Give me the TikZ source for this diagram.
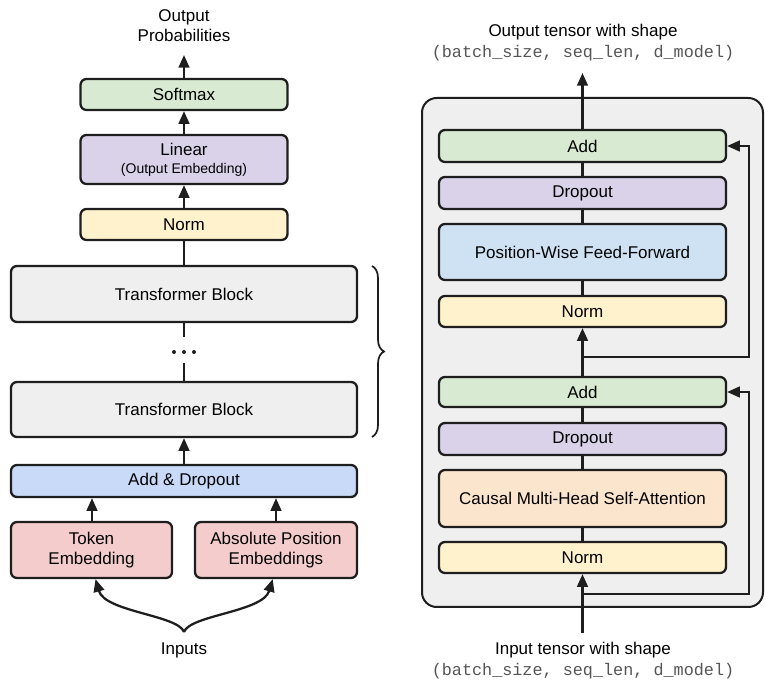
\documentclass[tikz,border=0pt]{standalone}
\usepackage{fontspec}
\setmainfont{Liberation Sans}
\setmonofont{Liberation Mono}
\usetikzlibrary{arrows.meta,decorations.pathreplacing}

\definecolor{boxline}{HTML}{1E1E1E}
\definecolor{cgreen}{HTML}{D9EAD3}
\definecolor{cpurple}{HTML}{D9D2E9}
\definecolor{cyellow}{HTML}{FFF2CC}
\definecolor{cgray}{HTML}{EFEFEF}
\definecolor{cblue}{HTML}{C9DAF8}
\definecolor{clblue}{HTML}{CFE2F3}
\definecolor{cpink}{HTML}{F4CCCC}
\definecolor{corange}{HTML}{FCE5CD}
\definecolor{monogray}{HTML}{555555}

\newcommand{\mainsize}{\fontsize{12.75pt}{14.5pt}\selectfont}
\newcommand{\smallsize}{\fontsize{10.5pt}{12pt}\selectfont}
\newcommand{\monotext}{\fontsize{12.6pt}{15pt}\selectfont\ttfamily\color{monogray}}

\begin{document}
\begin{tikzpicture}[x=0.75pt,y=-0.75pt,
  box/.style={draw=boxline, line width=1.7pt, rounded corners=4.5pt,
    inner sep=0pt, align=center, font=\mainsize, text=black},
  conn/.style={draw=boxline, line width=1.7pt},
  arr/.style={conn, -{Triangle[length=9.5pt,width=8pt]}},
  label/.style={inner sep=0pt, align=center, font=\mainsize, text=black},
]
\useasboundingbox (0,0) rectangle (765,680);

% ---------------- left: overall model ----------------
\node[label, font=\fontsize{12.75pt}{15pt}\selectfont] (outp) at (184,26) {Output\\Probabilities};
\coordinate (outtip) at (184,55);

\node[box, fill=cgreen, minimum width={207*0.75pt}, minimum height={31*0.75pt}] (softmax) at (184,94.5) {Softmax};
\node[box, fill=cpurple, minimum width={207*0.75pt}, minimum height={49*0.75pt}] (linear) at (184,159.5)
  {Linear\\[-1pt]{\smallsize (Output Embedding)}};
\node[box, fill=cyellow, minimum width={207*0.75pt}, minimum height={31*0.75pt}] (norm) at (184,224.5) {Norm};

\node[box, fill=cgray, minimum width={346*0.75pt}, minimum height={56*0.75pt}] (tb1) at (184,294) {Transformer Block};
\node[inner sep=0pt, minimum width={30*0.75pt}, minimum height={26*0.75pt}] (dots) at (184,350) {};
\node[box, fill=cgray, minimum width={346*0.75pt}, minimum height={55*0.75pt}] (tb2) at (184,409.5) {Transformer Block};

\node[box, fill=cblue, minimum width={346*0.75pt}, minimum height={32*0.75pt}] (adddrop) at (184,481) {Add \& Dropout};

\node[box, fill=cpink, minimum width={161*0.75pt}, minimum height={56*0.75pt}] (tok) at (91.5,550) {Token\\Embedding};
\node[box, fill=cpink, minimum width={162*0.75pt}, minimum height={56*0.75pt}] (pos) at (276,550) {Absolute Position\\Embeddings};

\node[label] (inputs) at (184,650) {Inputs};
\coordinate (split) at (184,632);

% dots between the stacked blocks
\fill[boxline] (174,352) circle (2);
\fill[boxline] (184,352) circle (2);
\fill[boxline] (194,352) circle (2);

% connectors
\draw[arr] (softmax.north) -- (outtip);
\draw[arr] (linear.north) -- (softmax.south);
\draw[arr] (norm.north) -- (linear.south);
\draw[conn] (tb1.north) -- (norm.south);
\draw[conn] (dots.north) -- (tb1.south);
\draw[conn] (tb2.north) -- (dots.south);
\draw[arr] (adddrop.north) -- (tb2.south);
\draw[arr] (tok.north -| 92,0) -- (adddrop.south -| 92,0);
\draw[arr] (pos.north -| 276,0) -- (adddrop.south -| 276,0);
\draw[arr] (split) .. controls (178,615) and (105,612) .. ([xshift=3pt]tok.south);
\draw[arr] (split) .. controls (190,615) and (263,612) .. ([xshift=-2.5pt]pos.south);

% brace grouping the blocks
\draw[boxline, line width=1.3pt, decorate, decoration={brace, amplitude=9pt}]
  (372,266) -- (372,437);

% ---------------- right: one transformer block ----------------
\node[draw=boxline, line width=1.5pt, fill=cgray, rounded corners=11pt,
  minimum width={341*0.75pt}, minimum height={509*0.75pt}, inner sep=0pt] (frame) at (592.5,352.5) {};

\node[label] (outlbl) at (583,32) {Output tensor with shape};
\node[inner sep=0pt, font=\monotext] (outshape) at (583,53) {(batch\_size, seq\_len, d\_model)};
\coordinate (outtop) at (582.5,73);

\node[box, fill=cgreen, minimum width={287*0.75pt}, minimum height={32*0.75pt}] (addB) at (582.5,146) {Add};
\node[box, fill=cpurple, minimum width={287*0.75pt}, minimum height={32*0.75pt}] (dropB) at (582.5,193) {Dropout};
\node[box, fill=clblue, minimum width={287*0.75pt}, minimum height={56*0.75pt}] (ffn) at (582.5,252) {Position-Wise Feed-Forward};
\node[box, fill=cyellow, minimum width={287*0.75pt}, minimum height={31*0.75pt}] (normB) at (582.5,311.5) {Norm};

\node[box, fill=cgreen, minimum width={287*0.75pt}, minimum height={30*0.75pt}] (addA) at (582.5,392) {Add};
\node[box, fill=cpurple, minimum width={287*0.75pt}, minimum height={32*0.75pt}] (dropA) at (582.5,439) {Dropout};
\node[box, fill=corange, minimum width={287*0.75pt}, minimum height={57*0.75pt}] (attn) at (582.5,498.5) {Causal Multi-Head Self-Attention};
\node[box, fill=cyellow, minimum width={287*0.75pt}, minimum height={31*0.75pt}] (normA) at (582.5,557.5) {Norm};

\node[label] (inlbl) at (583,650) {Input tensor with shape};
\node[inner sep=0pt, font=\monotext] (inshape) at (583,671) {(batch\_size, seq\_len, d\_model)};
\coordinate (inbot) at (582.5,633);

% residual branch points
\coordinate (r2) at (582.5,357);
\coordinate (r2c) at (749,357);
\coordinate (r1) at (582.5,594);
\coordinate (r1c) at (749,594);

% connectors
\draw[arr] (addB.north) -- (outtop);
\draw[conn] (dropB.north) -- (addB.south);
\draw[conn] (ffn.north) -- (dropB.south);
\draw[conn] (normB.north) -- (ffn.south);
\draw[arr] (addA.north) -- (normB.south);
\draw[conn] (dropA.north) -- (addA.south);
\draw[conn] (attn.north) -- (dropA.south);
\draw[conn] (normA.north) -- (attn.south);
\draw[arr] (inbot) -- (normA.south);
\draw[arr] (r2) -- (r2c) |- (addB.east);
\draw[arr] (r1) -- (r1c) |- (addA.east);
\end{tikzpicture}
\end{document}
